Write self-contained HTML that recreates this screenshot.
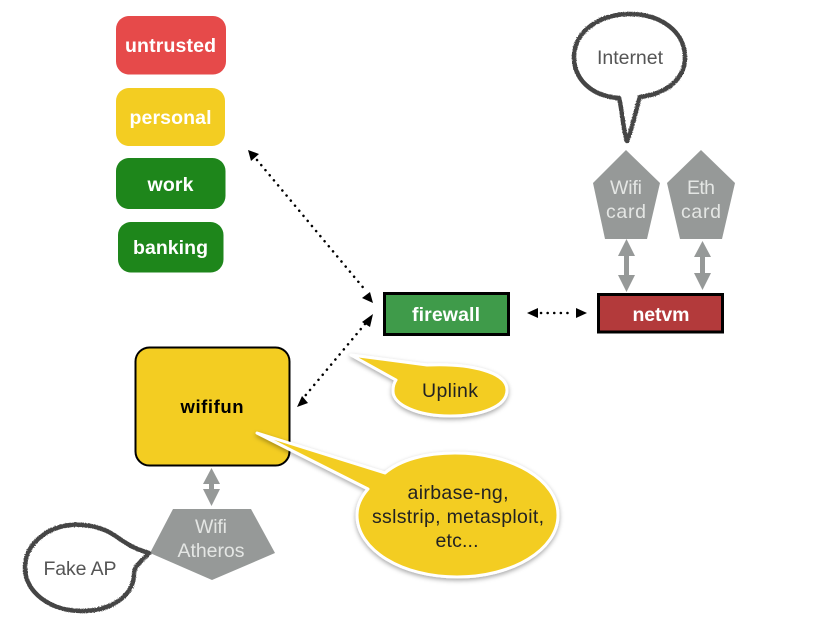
<!DOCTYPE html>
<html>
<head>
<meta charset="utf-8">
<style>
html,body{margin:0;padding:0;background:#fff;}
svg{display:block;}
text{font-family:"Liberation Sans",sans-serif;text-anchor:middle;}
.b{font-weight:bold;font-size:19.5px;fill:#fff;}
.g{font-size:19.5px;fill:#e4e6e4;}
.k{font-size:19.5px;fill:#222;}
.s{font-size:19.5px;fill:#555;}
.dot{fill:none;stroke:#000;stroke-width:2.5;stroke-linecap:round;stroke-dasharray:0.1 6.5;}
</style>
</head>
<body>
<svg width="837" height="626" viewBox="0 0 837 626" xmlns="http://www.w3.org/2000/svg">
<defs>
<filter id="rough" x="-10%" y="-10%" width="120%" height="120%">
<feTurbulence type="fractalNoise" baseFrequency="0.9" numOctaves="2" seed="3"/>
<feDisplacementMap in="SourceGraphic" scale="2"/>
</filter>
<filter id="sh" x="-10%" y="-10%" width="120%" height="125%">
<feDropShadow dx="0" dy="2" stdDeviation="2.500" flood-color="#000" flood-opacity="0.35"/>
</filter>
</defs>

<!-- domain boxes -->
<rect x="116" y="16" width="110" height="58.500" rx="13" fill="#e64a4a"/>
<text class="b" x="170.500" y="52" textLength="91" lengthAdjust="spacing">untrusted</text>
<rect x="116" y="88" width="109" height="58" rx="13" fill="#f3cd22"/>
<text class="b" x="170.500" y="124" textLength="82" lengthAdjust="spacing">personal</text>
<rect x="116" y="158" width="109.500" height="51" rx="13" fill="#1e861b"/>
<text class="b" x="170.500" y="191" textLength="46" lengthAdjust="spacing">work</text>
<rect x="118" y="222" width="105.500" height="50.500" rx="13" fill="#1e861b"/>
<text class="b" x="170.500" y="254" textLength="75" lengthAdjust="spacing">banking</text>

<!-- firewall / netvm -->
<rect x="384.500" y="293.500" width="124" height="41" fill="#3f9b4a" stroke="#000" stroke-width="3"/>
<text class="b" x="446" y="321" textLength="68" lengthAdjust="spacing">firewall</text>
<rect x="598.500" y="294.500" width="124" height="37.500" fill="#b33a3b" stroke="#000" stroke-width="3"/>
<text class="b" x="661" y="321" textLength="57" lengthAdjust="spacing">netvm</text>

<!-- wififun -->
<rect x="135.500" y="347.500" width="154" height="118" rx="14" fill="#f3cd22" stroke="#000" stroke-width="2"/>
<text x="212" y="413" font-size="18.500" font-weight="bold" fill="#000" textLength="63" lengthAdjust="spacing">wififun</text>

<!-- dotted connectors -->
<path class="dot" d="M257 160 L366 291"/>
<polygon points="248,150 259,154 251,161" fill="#000"/>
<polygon points="373,303 362,298 370,292" fill="#000"/>
<path class="dot" d="M365 324 L305 396"/>
<polygon points="373,314 362,322 370,327" fill="#000"/>
<polygon points="297,407 302,396 308,403" fill="#000"/>
<path class="dot" d="M541 313 L572 313"/>
<polygon points="527,313 538,308 538,318" fill="#000"/>
<polygon points="587,313 576,308 576,318" fill="#000"/>

<!-- pentagons -->
<polygon points="626,150 660,183 647,239 605,239 593,183" fill="#969998"/>
<text class="g" x="626" y="194" textLength="32" lengthAdjust="spacing">Wifi</text>
<text class="g" x="626" y="218" textLength="40" lengthAdjust="spacing">card</text>
<polygon points="701,150 735,183 722,239 680,239 667,183" fill="#969998"/>
<text class="g" x="701" y="194" textLength="28" lengthAdjust="spacing">Eth</text>
<text class="g" x="701" y="218" textLength="40" lengthAdjust="spacing">card</text>
<polygon points="173,509 251,509 275,553 212,580 150,553" fill="#969998"/>
<text class="g" x="211" y="533" textLength="32" lengthAdjust="spacing">Wifi</text>
<text class="g" x="211" y="557" textLength="67" lengthAdjust="spacing">Atheros</text>

<!-- grey double arrows -->
<polygon points="626.500,239 635,256 629,256 629,275 635,275 626.500,292 618,275 624,275 624,256 618,256" fill="#969998"/>
<polygon points="702.500,241 711,257 705,257 705,273 711,273 702.500,290 694,273 700,273 700,257 694,257" fill="#969998"/>
<polygon points="211.500,468 220,484 214,484 214,489 220,489 211.500,506 203,489 209,489 209,484 203,484" fill="#969998"/>

<!-- sketch bubbles -->
<path filter="url(#rough)" d="M619 98 C590 96 574 78 574 57 C574 31 600 14 630 14 C661 14 685 32 685 57 C685 80 665 94 640 97 C637 105 632 130 627 141 C623 130 622 108 619 98 Z" fill="#fff" stroke="#444" stroke-width="4.500" stroke-linejoin="round"/>
<text class="s" x="630" y="64" textLength="66" lengthAdjust="spacing">Internet</text>

<path filter="url(#rough)" d="M149 553 C132 548 124 542 114 535 C100 526 85 524 70 525 C45 528 25 545 25 568 C25 592 50 611 82 611 C112 611 134 595 134 574 C134 566 141 562 149 553 Z" fill="#fff" stroke="#444" stroke-width="4.500" stroke-linejoin="round"/>
<text class="s" x="80" y="575" textLength="73" lengthAdjust="spacing">Fake AP</text>

<!-- yellow callouts -->
<path filter="url(#sh)" d="M351 355 L427 365 C470 363 507 372 507 390 C507 407 480 416 450 416 C418 416 393 405 393 391 C393 387 394 383 396 380 Z" fill="#f3cd22" stroke="#fff" stroke-width="3" stroke-linejoin="round"/>
<text class="k" x="450" y="397" textLength="56" lengthAdjust="spacing">Uplink</text>

<path filter="url(#sh)" d="M257 433 L385 473 C400 460 425 453 455 453 C512 453 558 480 558 515 C558 550 512 577 457 577 C402 577 357 550 357 515 C357 505 361 497 368 489 Z" fill="#f3cd22" stroke="#fff" stroke-width="3" stroke-linejoin="round"/>
<text class="k" x="458" y="499" textLength="101" lengthAdjust="spacing">airbase-ng,</text>
<text class="k" x="458" y="523" textLength="172" lengthAdjust="spacing">sslstrip, metasploit,</text>
<text class="k" x="457" y="547" textLength="43" lengthAdjust="spacing">etc...</text>
</svg>
</body>
</html>
